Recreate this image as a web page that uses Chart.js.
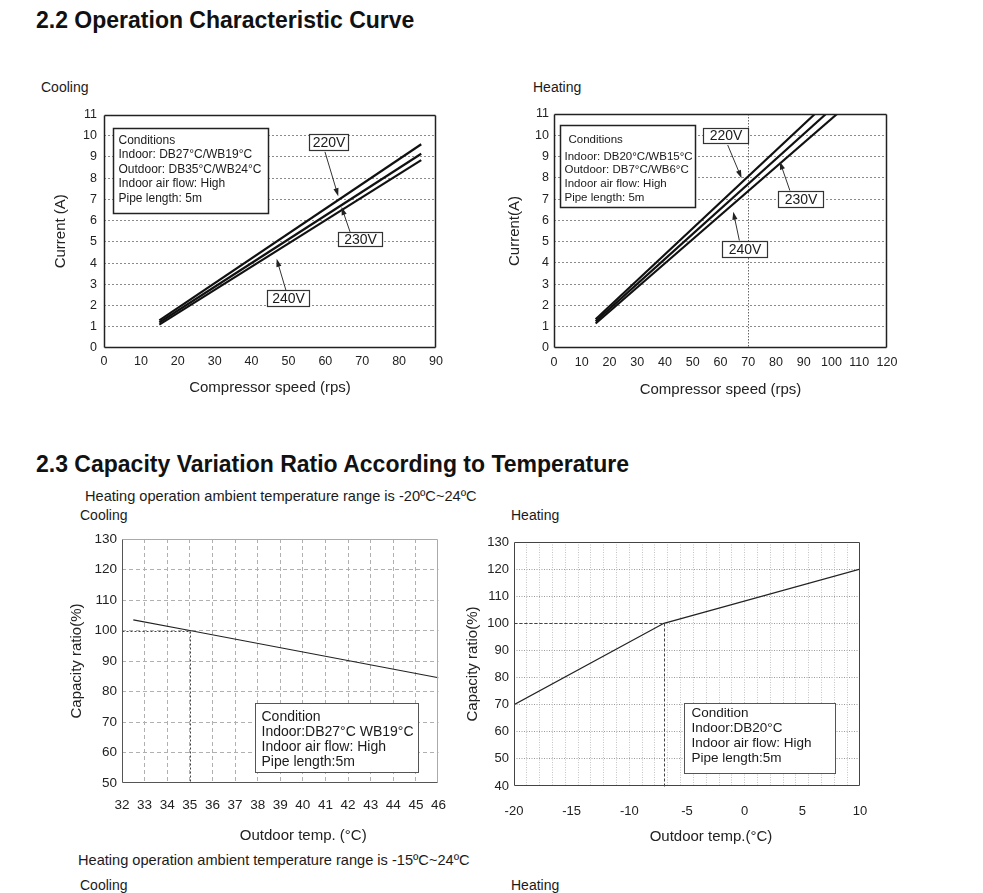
<!DOCTYPE html>
<html>
<head>
<meta charset="utf-8">
<script src="https://cdn.jsdelivr.net/npm/chart.js@4.4.1/dist/chart.umd.min.js"></script>
<style>
  html, body { margin: 0; padding: 0; background: #fff; }
  body { width: 983px; height: 893px; position: relative; overflow: hidden;
         font-family: "Liberation Sans", Arial, sans-serif; color: #1a1a1a; }
  .t { position: absolute; white-space: nowrap; line-height: 1; }
  .h { font-weight: bold; font-size: 23px; color: #111; }
  .s { font-size: 14px; }
  .r { font-size: 14.6px; }
  canvas { position: absolute; }
</style>
</head>
<body>
<div class="t h" style="left:36px;top:9px">2.2 Operation Characteristic Curve</div>
<div class="t s" style="left:41px;top:80px">Cooling</div>
<div class="t s" style="left:533px;top:80px">Heating</div>

<div class="t h" style="left:36px;top:453px">2.3 Capacity Variation Ratio According to Temperature</div>
<div class="t r" style="left:85px;top:489px">Heating operation ambient temperature range is -20ºC~24ºC</div>
<div class="t s" style="left:80px;top:508px">Cooling</div>
<div class="t s" style="left:511px;top:508px">Heating</div>
<div class="t r" style="left:78px;top:853px">Heating operation ambient temperature range is -15ºC~24ºC</div>
<div class="t s" style="left:80px;top:878px">Cooling</div>
<div class="t s" style="left:511px;top:878px">Heating</div>

<canvas id="coolCurrent" width="420" height="300" style="left:40px;top:100px"></canvas>
<canvas id="heatCurrent" width="420" height="300" style="left:500px;top:100px"></canvas>
<canvas id="coolRatio" width="400" height="325" style="left:60px;top:525px"></canvas>
<canvas id="heatRatio" width="440" height="325" style="left:460px;top:525px"></canvas>

<script>
// ---- data ----
// 2.2 cooling: compressor speed (rps) vs current (A)
const coolSpeed = [15, 86];
const cool220 = [1.3, 9.6];
const cool230 = [1.2, 9.15];
const cool240 = [1.1, 8.85];

// 2.2 heating: lines run out of the top of the plot at 11 A
const heat220Speed = [15, 94];
const heat220 = [1.35, 11];
const heat230Speed = [15, 98];
const heat230 = [1.25, 11];
const heat240Speed = [15, 102];
const heat240 = [1.15, 11];

// 2.3 capacity ratio (%) vs outdoor temp (°C)
const coolTemp = [32.5, 35, 46];
const coolRatio = [103.5, 100, 84.5];
const heatTemp = [-20, -7, 10];
const heatRatio = [70, 100, 120];

// tick labels
const currentTicks = [0, 1, 2, 3, 4, 5, 6, 7, 8, 9, 10, 11];
const coolSpeedTicks = [0, 10, 20, 30, 40, 50, 60, 70, 80, 90];
const heatSpeedTicks = [0, 10, 20, 30, 40, 50, 60, 70, 80, 90, 100, 110, 120];
const coolTempTicks = [32, 33, 34, 35, 36, 37, 38, 39, 40, 41, 42, 43, 44, 45, 46];
const coolRatioTicks = [50, 60, 70, 80, 90, 100, 110, 120, 130];
const heatTempTicks = [-20, -15, -10, -5, 0, 5, 10];
const heatRatioTicks = [40, 50, 60, 70, 80, 90, 100, 110, 120, 130];

const FONT = '"Liberation Sans", Arial, sans-serif';
Chart.defaults.font.family = FONT;
Chart.defaults.color = '#222';

const pts = (xs, ys) => xs.map((x, i) => ({x: x, y: ys[i]}));
const useTicks = arr => scale => { scale.ticks = arr.map(v => ({value: v})); };

// draws the frame, notes, labels and arrows that sit on the paper
function decor(cfg) {
    return {
        id: 'decor',
        afterDatasetsDraw(chart) {
            const {ctx, chartArea: a, scales} = chart;
            const px = v => scales.x.getPixelForValue(v);
            const py = v => scales.y.getPixelForValue(v);
            ctx.save();

            // dotted guide lines
            (cfg.guides || []).forEach(g => {
                ctx.beginPath();
                ctx.setLineDash(g.dash);
                ctx.strokeStyle = g.color;
                ctx.lineWidth = 1;
                g.pts.forEach((p, i) => {
                    const x = Math.round(px(p[0])) + 0.5, y = Math.round(py(p[1])) + 0.5;
                    i ? ctx.lineTo(x, y) : ctx.moveTo(x, y);
                });
                ctx.stroke();
            });
            ctx.setLineDash([]);

            // plot frame
            const f = cfg.frame;
            const L = Math.round(a.left) + 0.5, R = Math.round(a.right) - 0.5;
            const T = Math.round(a.top) + 0.5, B = Math.round(a.bottom) - 0.5;
            ctx.lineWidth = f.width;
            [['top', L, T, R, T], ['right', R, T, R, B], ['bottom', L, B, R, B], ['left', L, T, L, B]].forEach(s => {
                ctx.strokeStyle = f[s[0]] || f.color;
                ctx.beginPath();
                ctx.moveTo(s[1], s[2]);
                ctx.lineTo(s[3], s[4]);
                ctx.stroke();
            });

            // arrows
            (cfg.arrows || []).forEach(ar => {
                const x1 = px(ar.from[0]), y1 = py(ar.from[1]);
                const x2 = px(ar.to[0]), y2 = py(ar.to[1]);
                const ang = Math.atan2(y2 - y1, x2 - x1);
                ctx.strokeStyle = '#333';
                ctx.fillStyle = '#222';
                ctx.lineWidth = 1;
                ctx.beginPath();
                ctx.moveTo(x1, y1);
                ctx.lineTo(x2 - 5 * Math.cos(ang), y2 - 5 * Math.sin(ang));
                ctx.stroke();
                ctx.beginPath();
                ctx.moveTo(x2, y2);
                ctx.lineTo(x2 - 8 * Math.cos(ang) + 2.6 * Math.sin(ang), y2 - 8 * Math.sin(ang) - 2.6 * Math.cos(ang));
                ctx.lineTo(x2 - 8 * Math.cos(ang) - 2.6 * Math.sin(ang), y2 - 8 * Math.sin(ang) + 2.6 * Math.cos(ang));
                ctx.closePath();
                ctx.fill();
            });

            // boxed notes
            (cfg.boxes || []).forEach(b => {
                const x1 = Math.round(px(b.x1)) + 0.5, x2 = Math.round(px(b.x2)) + 0.5;
                const y1 = Math.round(py(b.y1)) + 0.5, y2 = Math.round(py(b.y2)) + 0.5;
                ctx.fillStyle = '#fff';
                ctx.fillRect(x1, y1, x2 - x1, y2 - y1);
                ctx.strokeStyle = b.border;
                ctx.lineWidth = b.lw;
                ctx.strokeRect(x1, y1, x2 - x1, y2 - y1);
                ctx.fillStyle = '#1a1a1a';
                ctx.font = b.font;
                ctx.textBaseline = 'middle';
                if (b.text) {
                    ctx.textAlign = 'center';
                    ctx.fillText(b.text, (x1 + x2) / 2, (y1 + y2) / 2 + 0.5);
                } else {
                    ctx.textAlign = 'left';
                    b.lines.forEach((ln, i) => ctx.fillText(ln, x1 + b.dx[i], y1 + b.dy[i]));
                }
            });

            // x-axis title printed off-centre on the sheet
            if (cfg.xTitle) {
                ctx.fillStyle = '#222';
                ctx.font = '15px ' + FONT;
                ctx.textAlign = 'center';
                ctx.textBaseline = 'middle';
                ctx.fillText(cfg.xTitle.text, (a.left + a.right) / 2 + cfg.xTitle.dx, chart.height - cfg.xTitle.up);
            }
            ctx.restore();
        }
    };
}

function lineSet(label, data, width, color) {
    return {label: label, data: data, showLine: true, borderColor: color, borderWidth: width,
            pointRadius: 0, fill: false, tension: 0};
}

function baseOptions(o) {
    return {
        responsive: false,
        animation: false,
        events: [],
        layout: {padding: o.padding},
        plugins: {legend: {display: false}, tooltip: {enabled: false}},
        scales: {
            x: {
                type: 'linear', min: o.xTicks[0], max: o.xTicks[o.xTicks.length - 1],
                afterBuildTicks: useTicks(o.xTicks),
                afterFit: s => { s.height = o.xHeight; },
                border: {display: false, dash: o.xDash || []},
                grid: {drawTicks: false, color: o.xGrid, lineWidth: 1},
                ticks: {autoSkip: false, maxRotation: 0, padding: o.xPad, font: {size: o.tickSize}, color: '#222'},
                title: {display: !!o.xTitle, text: o.xTitle, font: {size: 15}, color: '#222',
                        padding: {top: 0, bottom: o.xTitlePad}}
            },
            y: {
                type: 'linear', min: o.yTicks[0], max: o.yTicks[o.yTicks.length - 1],
                afterBuildTicks: useTicks(o.yTicks),
                afterFit: s => { s.width = o.yWidth; },
                border: {display: false, dash: o.yDash || []},
                grid: {drawTicks: false, color: o.yGrid, lineWidth: 1},
                ticks: {autoSkip: false, padding: o.yPad, font: {size: o.tickSize}, color: '#222'},
                title: {display: true, text: o.yTitle, font: {size: 15}, color: '#222',
                        padding: {top: o.yTitlePad, bottom: 0}}
            }
        }
    };
}

const edgeHide = (lo, hi, color) => c => (c.tick && (c.tick.value === lo || c.tick.value === hi)) ? 'rgba(0,0,0,0)' : color;

// ---- 2.2 cooling ----
new Chart(document.getElementById('coolCurrent'), {
    type: 'scatter',
    data: {datasets: [
        lineSet('220V', pts(coolSpeed, cool220), 2.2, '#111'),
        lineSet('230V', pts(coolSpeed, cool230), 2.2, '#111'),
        lineSet('240V', pts(coolSpeed, cool240), 2.2, '#111')
    ]},
    options: baseOptions({
        padding: {top: 14, right: 24, left: 0, bottom: 0},
        xTicks: coolSpeedTicks, yTicks: currentTicks,
        xHeight: 52, yWidth: 64, xPad: 6, yPad: 7, tickSize: 12.5,
        xTitle: 'Compressor speed (rps)', yTitle: 'Current (A)', xTitlePad: 3, yTitlePad: 12,
        xGrid: 'rgba(0,0,0,0)', yGrid: edgeHide(0, 11, '#8a8a8a'), yDash: [2, 2]
    }),
    plugins: [decor({
        frame: {color: '#222', width: 1.5},
        boxes: [
            {x1: 2.4, y1: 10.35, x2: 44.5, y2: 6.35, border: '#222', lw: 1.5, font: '12px ' + FONT,
             lines: ['Conditions', 'Indoor: DB27°C/WB19°C', 'Outdoor: DB35°C/WB24°C', 'Indoor air flow: High', 'Pipe length: 5m'],
             dx: [5, 5, 5, 5, 5], dy: [12, 26.5, 41, 55.5, 70]},
            {x1: 55.6, y1: 10.06, x2: 66.1, y2: 9.31, border: '#333', lw: 1.2, font: '14px ' + FONT, text: '220V'},
            {x1: 63.3, y1: 5.47, x2: 75.3, y2: 4.8, border: '#333', lw: 1.2, font: '14px ' + FONT, text: '230V'},
            {x1: 44.1, y1: 2.73, x2: 55.7, y2: 1.97, border: '#333', lw: 1.2, font: '14px ' + FONT, text: '240V'}
        ],
        arrows: [
            {from: [59.9, 9.24], to: [63.5, 7.15]},
            {from: [66.7, 5.47], to: [64.4, 6.64]},
            {from: [49.3, 2.73], to: [46.8, 4.2]}
        ]
    })]
});

// ---- 2.2 heating ----
new Chart(document.getElementById('heatCurrent'), {
    type: 'scatter',
    data: {datasets: [
        lineSet('220V', pts(heat220Speed, heat220), 2.2, '#111'),
        lineSet('230V', pts(heat230Speed, heat230), 2.2, '#111'),
        lineSet('240V', pts(heat240Speed, heat240), 2.2, '#111')
    ]},
    options: baseOptions({
        padding: {top: 14, right: 33, left: 0, bottom: 0},
        xTicks: heatSpeedTicks, yTicks: currentTicks,
        xHeight: 52, yWidth: 54, xPad: 7, yPad: 5, tickSize: 12.5,
        xTitle: 'Compressor speed (rps)', yTitle: 'Current(A)', xTitlePad: 1, yTitlePad: 6,
        xGrid: c => (c.tick && c.tick.value === 70) ? '#666' : 'rgba(0,0,0,0)', xDash: [1.5, 1.5],
        yGrid: edgeHide(0, 11, '#8a8a8a'), yDash: [2, 2]
    }),
    plugins: [decor({
        frame: {color: '#222', width: 1.5},
        boxes: [
            {x1: 2.16, y1: 10.48, x2: 50.8, y2: 6.63, border: '#222', lw: 1.5, font: '11.5px ' + FONT,
             lines: ['Conditions', 'Indoor: DB20°C/WB15°C', 'Outdoor: DB7°C/WB6°C', 'Indoor air flow: High', 'Pipe length: 5m'],
             dx: [8, 4, 4, 4, 4], dy: [14, 31, 44.5, 58, 72]},
            {x1: 53.8, y1: 10.33, x2: 70.0, y2: 9.62, border: '#333', lw: 1.2, font: '14px ' + FONT, text: '220V'},
            {x1: 80.8, y1: 7.4, x2: 97.0, y2: 6.61, border: '#333', lw: 1.2, font: '14px ' + FONT, text: '230V'},
            {x1: 60.4, y1: 5.05, x2: 76.6, y2: 4.29, border: '#333', lw: 1.2, font: '14px ' + FONT, text: '240V'}
        ],
        arrows: [
            {from: [62.6, 9.54], to: [67.6, 7.98]},
            {from: [85.0, 7.4], to: [81.4, 8.76]},
            {from: [66.8, 5.05], to: [64.6, 6.41]}
        ]
    })]
});

// ---- 2.3 cooling ----
new Chart(document.getElementById('coolRatio'), {
    type: 'scatter',
    data: {datasets: [lineSet('Capacity ratio', pts(coolTemp, coolRatio), 1.2, '#222')]},
    options: baseOptions({
        padding: {top: 14, right: 17, left: 0, bottom: 0},
        xTicks: coolTempTicks, yTicks: coolRatioTicks,
        xHeight: 67, yWidth: 62, xPad: 14, yPad: 5, tickSize: 13.5,
        xTitle: '', yTitle: 'Capacity ratio(%)', xTitlePad: 5, yTitlePad: 8,
        xGrid: edgeHide(32, 46, '#b0b0b0'), xDash: [4, 3],
        yGrid: edgeHide(50, 130, '#b0b0b0'), yDash: [4, 3]
    }),
    plugins: [decor({
        frame: {color: '#555', width: 1, top: '#aaa', right: '#aaa'},
        guides: [{pts: [[32, 100], [35, 100], [35, 50]], dash: [2, 2], color: '#444'}],
        boxes: [
            {x1: 37.89, y1: 76.2, x2: 45.08, y2: 53.6, border: '#555', lw: 1, font: '14px ' + FONT,
             lines: ['Condition', 'Indoor:DB27°C WB19°C', 'Indoor air flow: High', 'Pipe length:5m'],
             dx: [6, 6, 6, 6], dy: [14, 29, 44, 59]}
        ],
        xTitle: {text: 'Outdoor temp. (°C)', dx: 23, up: 14}
    })]
});

// ---- 2.3 heating ----
const heatOpts = baseOptions({
    padding: {top: 17, right: 40, left: 0, bottom: 0},
    xTicks: heatTempTicks, yTicks: heatRatioTicks,
    xHeight: 64, yWidth: 54, xPad: 18, yPad: 5, tickSize: 13,
    xTitle: '', yTitle: 'Capacity ratio(%)', xTitlePad: 4, yTitlePad: 4,
    xGrid: 'rgba(0,0,0,0)',
    yGrid: edgeHide(40, 130, '#9a9a9a'), yDash: [1, 1.5]
});
// the printed sheet carries its own fine vertical grid, not tied to the labels
heatOpts.scales.xg = {
    type: 'linear', position: 'bottom', min: 0, max: 27,
    ticks: {display: false, stepSize: 1},
    afterFit: s => { s.height = 0; },
    border: {display: false, dash: [1, 1.5]},
    grid: {drawTicks: false, color: edgeHide(0, 27, '#c4c4c4'), lineWidth: 1}
};
new Chart(document.getElementById('heatRatio'), {
    type: 'scatter',
    data: {datasets: [lineSet('Capacity ratio', pts(heatTemp, heatRatio), 1.2, '#222')]},
    options: heatOpts,
    plugins: [decor({
        frame: {color: '#444', width: 1},
        guides: [{pts: [[-20, 100], [-7, 100], [-7, 40]], dash: [3, 2], color: '#444'}],
        boxes: [
            {x1: -5.26, y1: 70.5, x2: 7.84, y2: 44.7, border: '#555', lw: 1, font: '13.5px ' + FONT,
             lines: ['Condition', 'Indoor:DB20°C', 'Indoor air flow: High', 'Pipe length:5m'],
             dx: [7, 7, 7, 7], dy: [10, 25, 40, 55]}
        ],
        xTitle: {text: 'Outdoor temp.(°C)', dx: 24, up: 13}
    })]
});
</script>
</body>
</html>
